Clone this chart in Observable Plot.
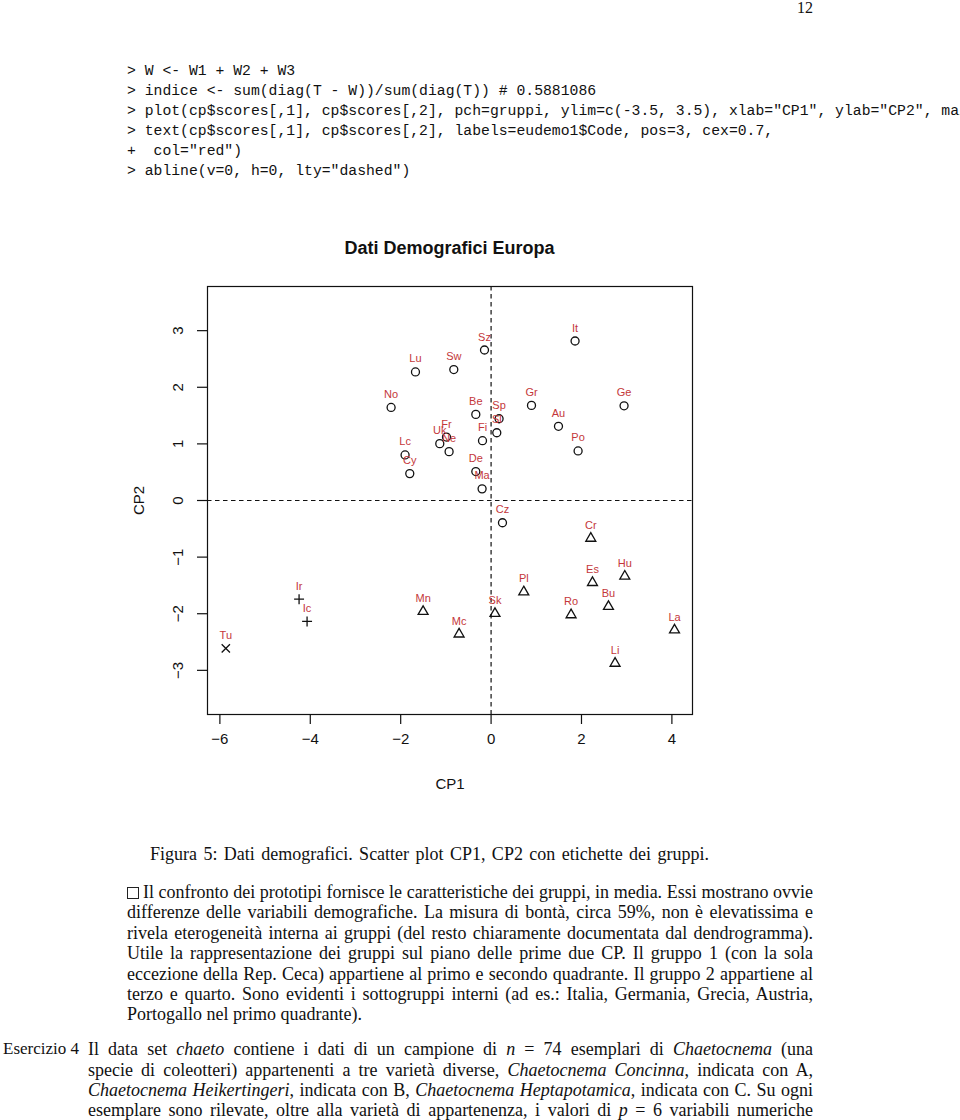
<!DOCTYPE html>
<html>
<head>
<meta charset="utf-8">
<script src="https://cdn.jsdelivr.net/npm/d3@7"></script>
<script src="https://cdn.jsdelivr.net/npm/@observablehq/plot@0.6"></script>
<style>
  html, body { margin: 0; padding: 0; background: #fff; }
  body { width: 960px; height: 1120px; position: relative; overflow: hidden; color: #111; }
  .abs { position: absolute; }
  .serif { font-family: "Liberation Serif", "DejaVu Serif", serif; font-size: 18px; }
  .pageno { left: 797px; top: 0px; line-height: 16px; font-size: 16px; }
  pre.code { margin: 0; left: 127px; top: 62px; width: 833px; overflow: hidden;
    font-family: "Liberation Mono", "DejaVu Sans Mono", monospace; font-size: 14.75px; line-height: 19.9px; white-space: pre; }
  .title { left: 0; width: 899px; top: 238px; text-align: center; font-family: "Liberation Sans", Arial, sans-serif;
    font-weight: bold; font-size: 18px; line-height: 20px; }
  .jl { line-height: 20px; text-align: justify; text-align-last: justify; white-space: normal; }
  .ll { height: 20px; line-height: 20px; white-space: nowrap; }
  .box { display: inline-block; width: 12px; height: 12px; border: 1px solid #222; vertical-align: -1px; margin-right: 4px; box-sizing: border-box; }
  #chart { left: 0; top: 270px; }
</style>
</head>
<body>
<div class="abs serif pageno">12</div>
<pre class="abs code">&gt; W &lt;- W1 + W2 + W3
&gt; indice &lt;- sum(diag(T - W))/sum(diag(T)) # 0.5881086
&gt; plot(cp$scores[,1], cp$scores[,2], pch=gruppi, ylim=c(-3.5, 3.5), xlab="CP1", ylab="CP2", main="Dati Demografici Europa")
&gt; text(cp$scores[,1], cp$scores[,2], labels=eudemo1$Code, pos=3, cex=0.7,
+  col="red")
&gt; abline(v=0, h=0, lty="dashed")</pre>

<div class="abs title">Dati Demografici Europa</div>
<div id="chart" class="abs"></div>

<div class="abs serif jl" style="left:150px; top:844px; width:559px;">Figura 5: Dati demografici. Scatter plot CP1, CP2 con etichette dei gruppi.</div>

<div class="abs serif jl" style="left:127px; top:882px; width:686px;"><span class="box"></span>Il confronto dei prototipi fornisce le caratteristiche dei gruppi, in media. Essi mostrano ovvie</div>
<div class="abs serif jl" style="left:127px; top:902px; width:686px;">differenze delle variabili demografiche. La misura di bontà, circa 59%, non è elevatissima e</div>
<div class="abs serif jl" style="left:127px; top:923px; width:686px;">rivela eterogeneità interna ai gruppi (del resto chiaramente documentata dal dendrogramma).</div>
<div class="abs serif jl" style="left:127px; top:943px; width:686px;">Utile la rappresentazione dei gruppi sul piano delle prime due CP. Il gruppo 1 (con la sola</div>
<div class="abs serif jl" style="left:127px; top:964px; width:686px;">eccezione della Rep. Ceca) appartiene al primo e secondo quadrante. Il gruppo 2 appartiene al</div>
<div class="abs serif jl" style="left:127px; top:984px; width:686px;">terzo e quarto. Sono evidenti i sottogruppi interni (ad es.: Italia, Germania, Grecia, Austria,</div>
<div class="abs serif ll" style="left:127px; top:1004px;">Portogallo nel primo quadrante).</div>

<div class="abs serif ll" style="left:3px; top:1039px; font-size:17px;">Esercizio 4</div>
<div class="abs serif jl" style="left:88px; top:1039px; width:725px;">Il data set <i>chaeto</i> contiene i dati di un campione di <i>n</i> = 74 esemplari di <i>Chaetocnema</i> (una</div>
<div class="abs serif jl" style="left:88px; top:1060px; width:725px;">specie di coleotteri) appartenenti a tre varietà diverse, <i>Chaetocnema Concinna</i>, indicata con A,</div>
<div class="abs serif jl" style="left:88px; top:1080px; width:725px;"><i>Chaetocnema Heikertingeri</i>, indicata con B, <i>Chaetocnema Heptapotamica</i>, indicata con C. Su ogni</div>
<div class="abs serif jl" style="left:88px; top:1100px; width:725px;">esemplare sono rilevate, oltre alla varietà di appartenenza, i valori di <i>p</i> = 6 variabili numeriche</div>

<script>
// ---- data ----
const codes = ["Sz","Lu","Sw","No","Be","Fi","Uk","Fr","Ne","Lc","Cy","De","Ma","It","Gr","Ge","Sp","Sl","Au","Po","Cz",
               "Mn","Mc","Sk","Cr","Es","Hu","Pl","Bu","Ro","La","Li",
               "Ir","Ic","Tu"];
const cp1 = [-0.146,-1.673,-0.825,-2.212,-0.338,-0.190,-1.135,-0.987,-0.929,-1.903,-1.799,-0.338,-0.199,1.858,0.894,2.942,0.177,0.126,1.491,1.925,0.252,
             -1.504,-0.708,0.086,2.206,2.243,2.958,0.723,2.597,1.770,4.058,2.743,
             -4.248,-4.071,-5.869];
const cp2 = [2.658,2.271,2.313,1.644,1.521,1.056,1.004,1.121,0.863,0.805,0.475,0.511,0.206,2.817,1.680,1.673,1.444,1.197,1.310,0.875,-0.393,
             -1.962,-2.360,-1.997,-0.669,-1.451,-1.338,-1.615,-1.874,-2.020,-2.289,-2.877,
             -1.743,-2.136,-2.611];
const gruppi = [1,1,1,1,1,1,1,1,1,1,1,1,1,1,1,1,1,1,1,1,1,
                2,2,2,2,2,2,2,2,2,2,2,
                3,3,4];
const xTicks = [-6,-4,-2,0,2,4];
const yTicks = [-3,-2,-1,0,1,2,3];

const data = codes.map((c, i) => ({code: c, cp1: cp1[i], cp2: cp2[i], g: gruppi[i]}));

const symbolOf = {1: "circle", 2: "triangle", 3: "plus", 4: "times"};
const rOf = {1: 4, 2: 3.7, 3: 3.3, 4: 3.85};

const dots = [1,2,3,4].map(g => Plot.dot(data, {
  filter: d => d.g === g, x: "cp1", y: "cp2",
  symbol: symbolOf[g], r: rOf[g], stroke: "#111", fill: "none", strokeWidth: 1.3
}));

const chart = Plot.plot({
  width: 960, height: 530,
  marginLeft: 207, marginRight: 268, marginTop: 16, marginBottom: 86,
  style: {fontFamily: "'Liberation Sans', Arial, sans-serif", fontSize: "15px", color: "#111", background: "transparent"},
  x: {domain: [-6.274, 4.456]},
  y: {domain: [-3.78, 3.78]},
  marks: [
    Plot.ruleX([0], {stroke: "#111", strokeWidth: 1.2, strokeDasharray: "4.5,3.5"}),
    Plot.ruleY([0], {stroke: "#111", strokeWidth: 1.2, strokeDasharray: "4.5,3.5"}),
    ...dots,
    Plot.text(data, {x: "cp1", y: "cp2", text: "code", dy: -13, fill: "#c4373a", fontSize: 11}),
    Plot.frame({stroke: "#111", strokeWidth: 1.2}),
    Plot.axisX({ticks: xTicks, tickSize: 10, tickPadding: 9, strokeWidth: 1.2,
      label: "CP1", labelAnchor: "center", labelArrow: "none", labelOffset: 74}),
    // y tick marks only
    Plot.axisY({ticks: yTicks, tickSize: 10, stroke: "#111", strokeWidth: 1.2, fill: "none", label: null}),
    // y tick labels (rotated, R style) and axis title
    Plot.axisY({ticks: yTicks, tickSize: 0, tickPadding: 29,
      rotate: -90, textAnchor: "middle", lineAnchor: "middle",
      label: "CP2", labelAnchor: "center", labelArrow: "none", labelOffset: 74})
  ]
});
document.getElementById("chart").appendChild(chart);

// keep each justified text line on a single line
document.querySelectorAll(".jl").forEach(el => {
  let fs = 18;
  while (el.offsetHeight > 24 && fs > 12) { fs -= 0.25; el.style.fontSize = fs + "px"; }
});
</script>
</body>
</html>
